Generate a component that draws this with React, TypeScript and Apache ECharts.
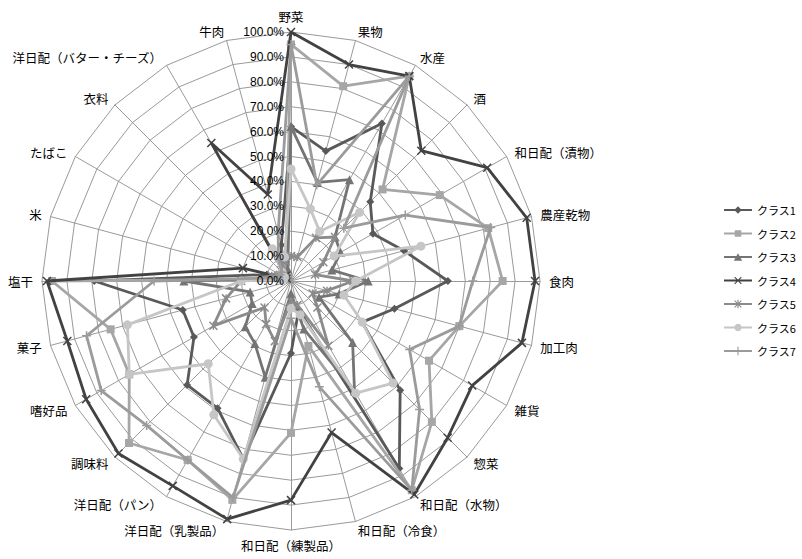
import React, { useEffect, useRef } from 'react';
import * as echarts from 'echarts';

const categories = [
  '野菜', '果物', '水産', '酒', '和日配（漬物）', '農産乾物', '食肉', '加工肉',
  '雑貨', '惣菜', '和日配（水物）', '和日配（冷食）', '和日配（練製品）', '洋日配（乳製品）',
  '洋日配（パン）', '調味料', '嗜好品', '菓子', '塩干', '米', 'たばこ', '衣料',
  '洋日配（バター・チーズ）', '牛肉',
];

const seriesNames = ['クラス1', 'クラス2', 'クラス3', 'クラス4', 'クラス5', 'クラス6', 'クラス7'];

const class1 = [62, 54, 73, 45, 38, 47, 63, 43, 33, 62, 87, 12, 29, 74, 59, 59, 45, 45, 79, 10, 5, 5, 8, 15];
const class2 = [95, 81, 95, 52, 69, 82, 85, 70, 64, 80, 97, 27, 61, 91, 83, 92, 75, 75, 96, 3, 3, 3, 5, 8];
const class3 = [62, 41, 47, 25, 23, 17, 31, 20, 13, 35, 51, 20, 5, 40, 29, 26, 18, 17, 43, 5, 3, 3, 3, 5];
const class4 = [100, 90, 95, 74, 91, 98, 98, 96, 84, 89, 99, 63, 88, 99, 95, 98, 95, 93, 98, 20, 2, 3, 64, 36];
const class5 = [10, 10, 20, 25, 15, 10, 25, 15, 10, 15, 30, 10, 8, 25, 20, 15, 36, 27, 20, 8, 5, 5, 8, 8];
const class6 = [45, 30, 23, 39, 20, 54, 26, 22, 33, 58, 52, 14, 11, 74, 62, 47, 75, 68, 20, 3, 3, 5, 15, 10];
const class7 = [95, 40, 95, 30, 53, 83, 73, 70, 55, 73, 97, 44, 15, 90, 83, 82, 88, 85, 55, 5, 5, 5, 10, 20];

const tickValues = [0, 10, 20, 30, 40, 50, 60, 70, 80, 90, 100];
const tickLabels = tickValues.map((v) => v.toFixed(1) + '%');

const allData = [class1, class2, class3, class4, class5, class6, class7];

const colors = ['#595959', '#a6a6a6', '#747474', '#424242', '#8b8b8b', '#c6c6c6', '#9b9b9b'];

const X_PATH = 'path://M0,0L10,10M10,0L0,10';
const STAR_PATH = 'path://M0,0L10,10M10,0L0,10M5,0L5,10';
const PLUS_PATH = 'path://M5,0L5,10M0,5L10,5';

const symbols = ['diamond', 'rect', 'triangle', X_PATH, STAR_PATH, 'circle', PLUS_PATH];
const symbolSizes = [8, 8, 9, 8, 8, 9, 9];
const stroked = [false, false, false, true, true, false, true];

const LINE = 'M0,3.8L30,3.8L30,6.2L0,6.2Z';
const EDGE = ' M0,0L0.01,0L0.01,10L0,10Z';
const legendIcons = [
  'path://' + LINE + 'M15,1L19,5L15,9L11,5Z' + EDGE,
  'path://' + LINE + 'M11.5,1.5L18.5,1.5L18.5,8.5L11.5,8.5Z' + EDGE,
  'path://' + LINE + 'M15,1L19.5,9L10.5,9Z' + EDGE,
  'path://' + LINE + 'M11,1.8L11.8,1L19,8.2L18.2,9Z M18.2,1L19,1.8L11.8,9L11,8.2Z' + EDGE,
  'path://' + LINE + 'M11,1.8L11.8,1L19,8.2L18.2,9Z M18.2,1L19,1.8L11.8,9L11,8.2Z M14.4,0.5L15.6,0.5L15.6,9.5L14.4,9.5Z' + EDGE,
  'path://' + LINE + 'M15,1A4,4 0 1,1 14.99,1Z' + EDGE,
  'path://' + LINE + 'M14.4,0.5L15.6,0.5L15.6,9.5L14.4,9.5Z' + EDGE,
];

// ECharts lays radar indicators counter-clockwise; the reference runs clockwise.
const order = [0, ...categories.map((_, i) => i).slice(1).reverse()];

const CX = 291;
const CY = 281;
const R = 249;
const FONT = "'Noto Sans CJK JP', 'Noto Sans', sans-serif";

export default function App() {
  const ref = useRef<HTMLDivElement>(null);
  useEffect(() => {
    if (!ref.current) return;
    const chart = echarts.init(ref.current, null, { renderer: 'svg' });
    const option: any = {
      animation: false,
      backgroundColor: '#ffffff',
      legend: {
        orient: 'vertical',
        left: 724,
        top: 203,
        padding: 0,
        itemWidth: 28,
        itemHeight: 10,
        itemGap: 9.5,
        selectedMode: false,
        itemStyle: { borderWidth: 0 },
        textStyle: { color: '#000', fontSize: 11, fontFamily: FONT, lineHeight: 14 },
        data: seriesNames.map((n, i) => ({ name: n, icon: legendIcons[i] })),
      },
      radar: {
        center: [CX, CY],
        radius: R,
        startAngle: 90,
        splitNumber: 10,
        shape: 'polygon',
        nameGap: 9,
        axisName: { color: '#000', fontSize: 12.5, fontFamily: FONT },
        splitLine: { lineStyle: { color: '#9a9a9a', width: 1 } },
        splitArea: { show: false },
        axisLine: { lineStyle: { color: '#9a9a9a', width: 1 } },
        axisTick: { show: false },
        axisLabel: { show: false },
        indicator: order.map((i) => ({ name: categories[i], min: 0, max: 100 })),
      },
      graphic: tickLabels.map((t, k) => ({
        type: 'text',
        x: CX - 7,
        y: CY - (R * tickValues[k]) / 100,
        z: 50,
        style: {
          text: t,
          align: 'right',
          verticalAlign: 'middle',
          fontSize: 12,
          fontFamily: "'Liberation Sans', sans-serif",
          fill: '#000',
          letterSpacing: -0.6,
        },
      })),
      series: allData.map((arr, s) => ({
        type: 'radar',
        name: seriesNames[s],
        z: 2 + s,
        symbol: symbols[s],
        symbolSize: symbolSizes[s],
        lineStyle: { color: colors[s], width: 2.8 },
        itemStyle: stroked[s]
          ? { color: colors[s], borderColor: colors[s], borderWidth: 1.5 }
          : { color: colors[s], borderWidth: 0 },
        data: [{ name: seriesNames[s], value: order.map((i) => arr[i]) }],
      })),
    };
    chart.setOption(option);
    return () => chart.dispose();
  }, []);
  return (
    <div
      ref={ref}
      style={{ position: 'fixed', left: 0, top: 0, width: 802, height: 559, background: '#fff' }}
    />
  );
}
